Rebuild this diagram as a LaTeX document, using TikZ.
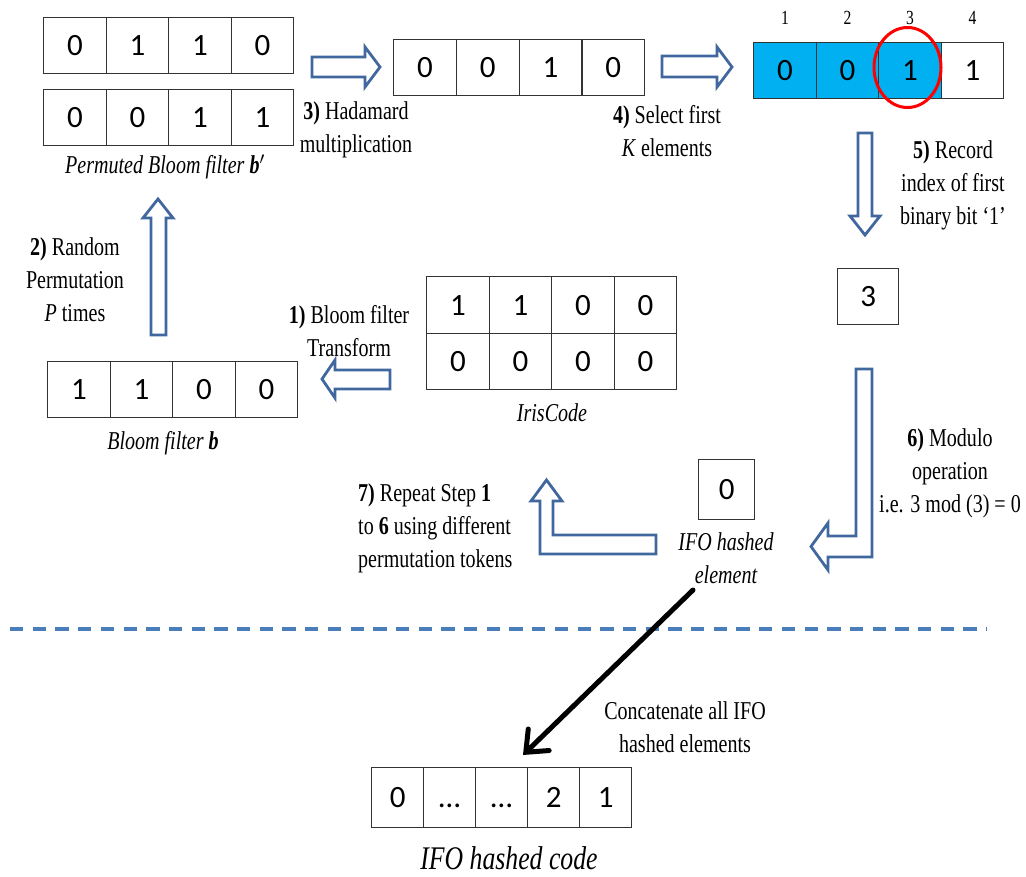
\documentclass[tikz,border=0pt]{standalone}
\usepackage{fontspec}
\setmainfont{Liberation Serif}[FakeStretch=0.78]
\newfontfamily\numfont{Carlito}
\usetikzlibrary{arrows.meta,calc}
\definecolor{arrblue}{HTML}{41689E}
\definecolor{dashblue}{HTML}{4A7EBB}
\definecolor{selcyan}{HTML}{00B0F0}
\definecolor{boxgray}{HTML}{333333}
\begin{document}
\begin{tikzpicture}[x=1pt,y=-1pt,
  cell/.style={draw=boxgray, line width=1.3pt, minimum width=62.5pt, minimum height=56pt, inner sep=0pt, anchor=north west, font=\numfont\fontsize{31}{31}\selectfont},
  txt/.style={font=\fontsize{25.7}{33}\selectfont, align=center, inner sep=0pt},
  idx/.style={font=\fontsize{20}{20}\selectfont, inner sep=0pt},
  blockarrow/.style={draw=arrblue, line width=2.8pt, fill=white, line join=miter},
  concat/.style={line width=5pt, line cap=round, -{Straight Barb[length=18pt,width=30pt,line cap=round]}}
]
\useasboundingbox (0,0) rectangle (1026,876);

% Permuted Bloom filters
\foreach \v [count=\i] in {0,1,1,0} \node[cell] (pa\i) at ({43+(\i-1)*62.5},17) {\v};
\foreach \v [count=\i] in {0,0,1,1} \node[cell] (pb\i) at ({43+(\i-1)*62.5},89) {\v};
\node[txt, font=\fontsize{25.7}{33}\selectfont\itshape] (pblbl) at (165,167) {Permuted Bloom filter \textbf{b}$'$};

% Hadamard result
\foreach \v [count=\i] in {0,0,1,0} \node[cell, minimum width=62.75pt] (h\i) at ({393+(\i-1)*62.75},39) {\v};
\node[txt] (hadlbl) at (356,130) {\textbf{3)} Hadamard\\multiplication};

% Selected elements
\node[cell, fill=selcyan] (s1) at (753,42) {0};
\node[cell, fill=selcyan] (s2) at (815.5,42) {0};
\node[cell, fill=selcyan] (s3) at (878,42) {1};
\node[cell] (s4) at (940.5,42) {1};
\foreach \i in {1,2,3,4} \node[idx] (ix\i) at ($(s\i.north)+(0,-24)$) {\i};
\draw[red, line width=3pt] (907.5,67.5) ellipse [x radius=33.5, y radius=40];
\node[txt] (sellbl) at (667,131) {\textbf{4)} Select first\\\textit{K} elements};
\node[txt] (reclbl) at (953,185) {\textbf{5)} Record\\index of first\\binary bit ‘1’};

% Index box
\node[cell, minimum width=61pt] (three) at (837,268) {3};

% IrisCode
\foreach \v [count=\i] in {1,1,0,0} \node[cell, minimum height=57pt] (ia\i) at ({426+(\i-1)*62.5},276) {\v};
\foreach \v [count=\i] in {0,0,0,0} \node[cell] (ib\i) at ({426+(\i-1)*62.5},333) {\v};
\node[txt, font=\fontsize{25.7}{33}\selectfont\itshape] (irislbl) at (552,413) {IrisCode};
\node[txt] (bftlbl) at (349,331) {\textbf{1)} Bloom filter\\Transform};

% Bloom filter b
\foreach \v [count=\i] in {1,1,0,0} \node[cell] (b\i) at ({47+(\i-1)*62.5},361) {\v};
\node[txt, font=\fontsize{25.7}{33}\selectfont\itshape] (blbl) at (163,443) {Bloom filter \textbf{b}};
\node[txt] (permlbl) at (75,280) {\textbf{2)} Random\\Permutation\\\textit{P} times};

% Modulo
\node[txt] (modlbl) at (950,473) {\textbf{6)} Modulo\\operation\\i.e. 3 mod (3) = 0};
\node[cell, minimum width=56pt, minimum height=60pt] (ifo) at (698,459) {0};
\node[txt, font=\fontsize{25.7}{33}\selectfont\itshape] (ifolbl) at (726,558) {IFO hashed\\element};
\node[txt, align=left, anchor=west] (replbl) at (358,528) {\textbf{7)} Repeat Step \textbf{1}\\to \textbf{6} using different\\permutation tokens};

% Block arrows
\draw[blockarrow] (312,57) -- (365,57) -- (365,47) -- (380,67) -- (365,87) -- (365,77) -- (312,77) -- cycle;
\draw[blockarrow] (662,56) -- (717,56) -- (717,47) -- (732,67) -- (717,87) -- (717,77) -- (662,77) -- cycle;
\draw[blockarrow] (858,133) -- (872,133) -- (872,216) -- (880,216) -- (865,235) -- (850,216) -- (858,216) -- cycle;
\draw[blockarrow] (151,335) -- (166,335) -- (166,218) -- (173,218) -- (158,199) -- (143,218) -- (151,218) -- cycle;
\draw[blockarrow] (390,370) -- (335,370) -- (335,360) -- (322,379) -- (335,398) -- (335,389) -- (390,389) -- cycle;
\draw[blockarrow] (856,369) -- (872,369) -- (872,557) -- (828,557) -- (828,570) -- (811,546.5) -- (828,523) -- (828,536) -- (856,536) -- cycle;
\draw[blockarrow] (656,535) -- (656,554) -- (540,554) -- (540,501) -- (531,501) -- (546.5,480) -- (562,501) -- (553,501) -- (553,535) -- cycle;

% Separator
\coordinate (sepL) at (10,629);
\coordinate (sepR) at (987,629);
\draw[dashblue, line width=4.5pt, dash pattern=on 13.3pt off 9.4pt] (sepL) -- (sepR);

% Concatenation
\node[cell, minimum width=52pt, minimum height=60pt] (c1) at (371,767) {0};
\node[cell, minimum width=52pt, minimum height=60pt] (c2) at (423,767) {\vphantom{0}…};
\node[cell, minimum width=52pt, minimum height=60pt] (c3) at (475,767) {\vphantom{0}…};
\node[cell, minimum width=52pt, minimum height=60pt] (c4) at (527,767) {2};
\node[cell, minimum width=52pt, minimum height=60pt] (c5) at (579,767) {1};
\node[txt, font=\fontsize{33}{33}\selectfont\itshape] (codelbl) at (509,858) {IFO hashed code};
\node[txt] (catlbl) at (685,727) {Concatenate all IFO\\hashed elements};
\coordinate (blkstart) at (693,590);
\coordinate (blkend) at (523,755);
\draw[concat] (blkstart) -- (blkend);
\end{tikzpicture}
\end{document}
